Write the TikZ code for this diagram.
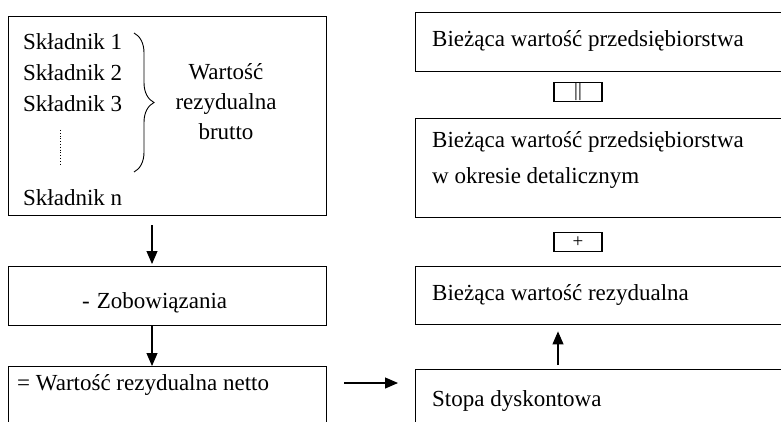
\documentclass[tikz,border=0pt]{standalone}
\usepackage{fontspec}
\setmainfont{Liberation Serif}
\usetikzlibrary{decorations.pathreplacing,arrows.meta}

\begin{document}
\begin{tikzpicture}[x=1pt,y=-1pt,every node/.style={black,inner sep=0pt,font=\fontsize{23}{30}\selectfont},
  box/.style={draw,line width=1.4pt,anchor=north west},
  txt/.style={anchor=base west},
  sign/.style={draw,line width=1.4pt,minimum width=48pt,minimum height=19pt,font=\fontsize{19}{19}\selectfont},
  arr/.style={line width=1.1pt,-{Triangle[length=13pt,width=11pt]}}]
\useasboundingbox (0,0) rectangle (781,422);
\clip (0,0) rectangle (781,422);

%	\node[box,...] (  ) at (left, top) {};
\node[box,minimum width=318pt,minimum height=199pt] (b1) at (8,16)  {};
\node[box,minimum width=318pt,minimum height=59pt]  (b2) at (8,266) {};
\node[box,minimum width=318pt,minimum height=80pt]  (b3) at (8,366) {};
\node[box,minimum width=400pt,minimum height=59pt]  (r1) at (415,12)  {};
\node[box,minimum width=400pt,minimum height=99pt]  (r2) at (415,118) {};
\node[box,minimum width=400pt,minimum height=58pt]  (r3) at (415,266) {};
\node[box,minimum width=400pt,minimum height=80pt]  (r4) at (415,369) {};

\node[sign] (eq) at (578,92)  {||};
\node[sign] (pl) at (578,242) {+};

\node[txt] (s1) at (23,50)  {Składnik 1};
\node[txt] (s2) at (23,81)  {Składnik 2};
\node[txt] (s3) at (23,112) {Składnik 3};
\node[txt] (sn) at (23,205) {Składnik n};
\draw[dotted,line width=0.8pt] (60,130) -- (60,166);
\draw[line width=0.9pt,decorate,decoration={brace,amplitude=20pt}] (134,33) -- (134,172);

\node[anchor=base] (w1) at (226,80)  {Wartość};
\node[anchor=base] (w2) at (226,110) {rezydualna};
\node[anchor=base] (w3) at (226,140) {brutto};

\node[txt] (zob) at (82,308) {-\hspace{7pt}Zobowiązania};
\node[txt] (wrn) at (17,390) {= Wartość rezydualna netto};

\node[txt] (t1) at (432,47)  {Bieżąca wartość przedsiębiorstwa};
\node[txt] (t2) at (432,148) {Bieżąca wartość przedsiębiorstwa};
\node[txt] (t3) at (432,183) {w okresie detalicznym};
\node[txt] (t4) at (432,300) {Bieżąca wartość rezydualna};
\node[txt] (t5) at (432,406) {Stopa dyskontowa};

\coordinate (ax) at (152,0);
\coordinate (ay) at (558,0);
\coordinate (hy) at (0,383);

\draw[arr,shorten <=9pt,shorten >=2pt] (b1.south -| ax) -- (b2.north -| ax);
\draw[arr] (b2.south -| ax) -- (b3.north -| ax);
\draw[arr,shorten <=17pt,shorten >=17pt] (b3.east |- hy) -- (r4.west |- hy);
\draw[arr,shorten <=4pt,shorten >=6pt] (r4.north -| ay) -- (r3.south -| ay);

\end{tikzpicture}
\end{document}
